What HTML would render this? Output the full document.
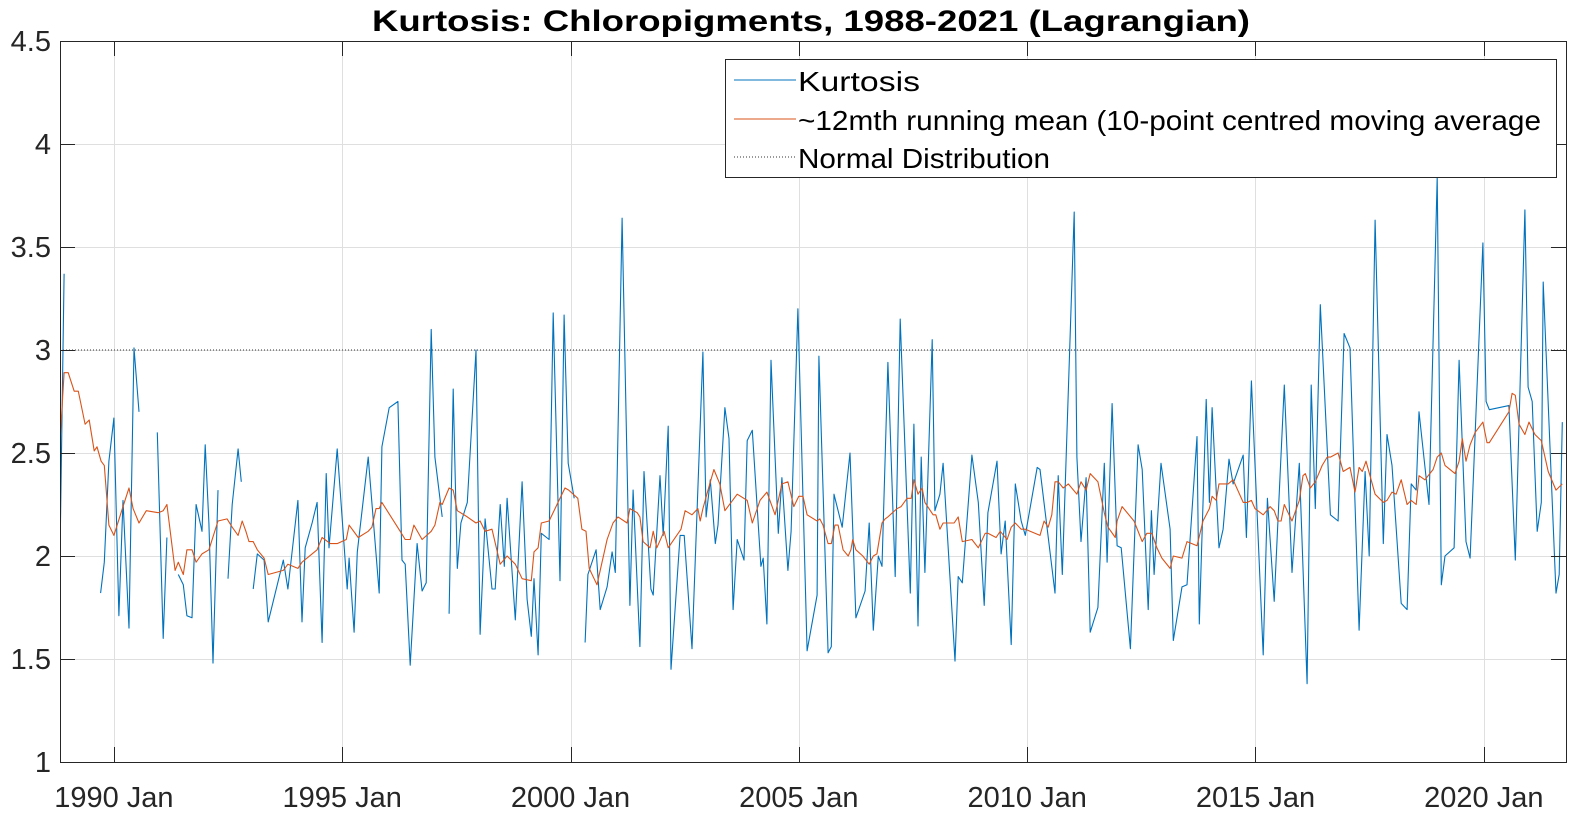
<!DOCTYPE html>
<html><head><meta charset="utf-8"><style>
html,body{margin:0;padding:0;background:#fff;}
svg{display:block;font-family:"Liberation Sans",Arial,sans-serif;}
</style></head><body>
<svg id="chart" width="1576" height="813" viewBox="0 0 1576 813" xmlns="http://www.w3.org/2000/svg">
<text x="811" y="31" text-anchor="middle" font-size="30" font-weight="bold" fill="#000" textLength="878" lengthAdjust="spacingAndGlyphs">Kurtosis: Chloropigments, 1988-2021 (Lagrangian)</text>
<g id="grid"></g>
<g id="series"></g>
<g id="axes"></g>
<g>
<rect x="725.5" y="59.5" width="831" height="118" fill="#fff" stroke="#262626" stroke-width="1"/>
<line x1="734" y1="80" x2="796" y2="80" stroke="#0072BD" stroke-width="1"/>
<text x="798" y="91" font-size="28" fill="#000" textLength="122" lengthAdjust="spacingAndGlyphs">Kurtosis</text>
<line x1="734" y1="119" x2="796" y2="119" stroke="#D95319" stroke-width="1"/>
<text x="798" y="130" font-size="28" fill="#000" textLength="743" lengthAdjust="spacingAndGlyphs">~12mth running mean (10-point centred moving average</text>
<line x1="734" y1="157" x2="796" y2="157" stroke="#333" stroke-width="1" stroke-dasharray="1,2"/>
<text x="798" y="168" font-size="28" fill="#000" textLength="252" lengthAdjust="spacingAndGlyphs">Normal Distribution</text>
</g>
</svg>
<script>
const yTicks = [1, 1.5, 2, 2.5, 3, 3.5, 4, 4.5];
const yTickLabels = ["1", "1.5", "2", "2.5", "3", "3.5", "4", "4.5"];
const xTicks = [1990, 1995, 2000, 2005, 2010, 2015, 2020];
const xTickLabels = ["1990 Jan", "1995 Jan", "2000 Jan", "2005 Jan", "2010 Jan", "2015 Jan", "2020 Jan"];
const normalValue = 3;
const kurtDates = [1988.81,1988.91,null,1989.71,1989.79,1989.89,1990.00,1990.11,1990.20,1990.33,1990.44,1990.55,null,1990.95,1991.08,1991.16,null,1991.41,1991.52,1991.60,1991.71,1991.80,1991.93,1992.00,1992.08,1992.17,1992.28,null,1992.50,1992.59,1992.72,1992.79,null,1993.05,1993.14,1993.29,1993.38,1993.71,1993.81,1994.03,1994.12,1994.19,1994.34,1994.45,1994.56,1994.65,1994.71,1994.89,1995.11,1995.15,1995.26,1995.33,1995.57,1995.81,1995.87,1996.03,1996.22,1996.31,1996.38,1996.49,1996.64,1996.75,1996.84,1996.95,1997.03,1997.19,null,1997.34,1997.43,1997.52,1997.60,1997.74,1997.93,1998.02,1998.13,1998.28,1998.35,1998.46,1998.55,1998.61,1998.79,1998.94,1999.05,1999.14,1999.20,1999.29,1999.36,1999.53,1999.62,1999.77,1999.86,1999.95,2000.08,null,2000.32,2000.38,2000.56,2000.65,2000.80,2000.91,2000.98,2001.13,2001.30,2001.37,2001.52,2001.61,2001.76,2001.81,2001.96,2002.03,2002.14,2002.20,2002.40,2002.49,2002.66,2002.90,2002.97,2003.06,2003.17,2003.23,2003.38,2003.47,2003.56,2003.65,2003.80,2003.87,2003.98,2004.17,2004.22,2004.30,2004.39,2004.55,2004.63,2004.76,2004.83,2004.98,2005.18,2005.40,2005.44,2005.64,2005.71,2005.77,2005.95,2006.12,2006.25,2006.45,2006.54,2006.63,2006.74,2006.82,2006.95,2007.11,2007.22,2007.44,2007.52,2007.61,2007.68,2007.76,2007.92,2007.98,2008.09,2008.16,2008.42,2008.49,2008.58,2008.79,2008.93,2009.06,2009.14,2009.34,2009.43,2009.52,2009.65,2009.74,2009.87,2009.96,2010.22,2010.28,2010.61,2010.68,2010.77,2011.03,2011.09,2011.18,2011.29,2011.38,2011.55,2011.69,2011.75,2011.86,2011.97,2012.06,2012.26,2012.43,2012.52,2012.65,2012.72,2012.78,2012.93,2013.13,2013.20,2013.39,2013.50,2013.72,2013.77,2013.92,2013.99,2014.05,2014.20,2014.29,2014.42,2014.51,2014.73,2014.80,2014.91,2015.17,2015.26,2015.41,2015.63,2015.80,2015.96,2016.13,2016.22,2016.31,2016.42,2016.64,2016.81,2016.94,2017.07,2017.27,2017.40,2017.49,2017.62,2017.80,2017.88,2017.99,2018.19,2018.32,2018.41,2018.52,2018.58,2018.80,2018.98,2019.07,2019.15,2019.35,2019.46,2019.61,2019.70,2019.98,2020.05,2020.12,2020.55,2020.69,2020.90,2020.97,2021.06,2021.17,2021.26,2021.30,2021.58,2021.65,2021.72];
const kurtValues = [1.84,3.37,null,1.82,1.97,2.46,2.67,1.71,2.27,1.65,3.01,2.70,null,2.60,1.60,2.09,null,1.91,1.86,1.71,1.70,2.25,2.12,2.54,2.16,1.48,2.32,null,1.89,2.25,2.52,2.36,null,1.84,2.01,1.98,1.68,1.98,1.84,2.27,1.68,2.04,2.16,2.26,1.58,2.40,2.04,2.52,1.84,1.99,1.63,2.02,2.48,1.82,2.53,2.72,2.75,1.98,1.96,1.47,2.06,1.83,1.87,3.10,2.48,2.19,null,1.72,2.81,1.94,2.16,2.26,3.00,1.62,2.18,1.84,1.84,2.25,1.95,2.28,1.69,2.36,1.79,1.61,1.89,1.52,2.11,2.08,3.18,1.88,3.17,2.45,2.28,null,1.58,1.91,2.03,1.74,1.85,2.02,1.92,3.64,1.76,2.32,1.56,2.41,1.84,1.81,2.39,2.10,2.63,1.45,2.10,2.10,1.55,2.99,2.19,2.37,2.06,2.15,2.72,2.57,1.74,2.08,1.98,2.56,2.61,1.95,1.99,1.67,2.95,2.11,2.38,1.93,2.12,3.20,1.54,1.81,2.97,1.53,1.56,2.30,2.14,2.50,1.70,1.83,2.16,1.64,2.00,1.95,2.94,1.90,3.15,1.82,2.64,1.66,2.48,1.92,3.05,2.22,2.30,2.45,1.49,1.90,1.87,2.49,2.26,1.76,2.21,2.46,2.01,2.17,1.57,2.35,2.17,2.10,2.43,2.42,1.82,2.39,1.91,3.67,2.48,2.07,2.38,1.63,1.75,2.45,1.97,2.74,2.05,2.04,1.55,2.54,2.42,1.74,2.22,1.91,2.45,2.13,1.59,1.85,1.86,2.58,1.67,2.76,2.26,2.72,2.04,2.13,2.47,2.35,2.49,2.09,2.85,1.52,2.28,1.78,2.83,1.92,2.45,1.38,2.83,2.23,3.22,2.20,2.17,3.08,3.01,1.64,2.41,2.00,3.63,2.06,2.59,2.44,1.77,1.74,2.35,2.32,2.70,2.25,3.84,1.86,2.00,2.04,2.95,2.07,1.99,3.52,2.75,2.71,2.73,1.98,3.68,2.82,2.75,2.12,2.26,3.33,1.82,1.91,2.65];
const meanDates = [1988.80,1988.91,1989.00,1989.13,1989.22,1989.37,1989.46,1989.57,1989.63,1989.72,1989.79,1989.89,1990.00,1990.20,1990.33,1990.42,1990.55,1990.71,1990.97,1991.08,1991.16,1991.34,1991.41,1991.52,1991.60,1991.71,1991.80,1991.93,1992.08,1992.28,1992.48,1992.59,1992.72,1992.81,1992.89,1992.96,1993.05,1993.14,1993.29,1993.38,1993.71,1993.81,1994.03,1994.12,1994.45,1994.56,1994.74,1994.89,1995.09,1995.15,1995.35,1995.57,1995.65,1995.74,1995.81,1995.87,1996.27,1996.38,1996.49,1996.57,1996.75,1996.95,1997.03,1997.14,1997.19,1997.34,1997.43,1997.52,1997.74,1997.93,1998.02,1998.13,1998.28,1998.46,1998.61,1998.79,1998.94,1999.14,1999.20,1999.29,1999.36,1999.53,1999.77,1999.88,1999.96,2000.16,2000.25,2000.34,2000.41,2000.58,2000.80,2000.93,2001.04,2001.24,2001.30,2001.46,2001.52,2001.59,2001.74,2001.81,2001.89,2002.05,2002.14,2002.42,2002.51,2002.66,2002.79,2002.84,2002.90,2003.01,2003.14,2003.27,2003.38,2003.65,2003.87,2003.98,2004.15,2004.30,2004.48,2004.63,2004.76,2004.89,2005.00,2005.09,2005.18,2005.40,2005.46,2005.53,2005.64,2005.71,2005.79,2005.86,2005.97,2006.08,2006.14,2006.18,2006.25,2006.40,2006.54,2006.63,2006.71,2006.82,2006.89,2006.95,2007.15,2007.24,2007.37,2007.46,2007.52,2007.61,2007.70,2007.76,2007.94,2008.00,2008.09,2008.16,2008.40,2008.49,2008.58,2008.79,2008.93,2009.08,2009.14,2009.32,2009.41,2009.56,2009.65,2009.74,2009.87,2009.96,2010.28,2010.37,2010.46,2010.54,2010.61,2010.68,2010.79,2010.90,2011.09,2011.18,2011.29,2011.38,2011.55,2011.69,2011.77,2011.93,2011.97,2012.08,2012.34,2012.52,2012.62,2012.73,2012.84,2012.95,2013.13,2013.20,2013.39,2013.50,2013.72,2013.85,2013.99,2014.05,2014.14,2014.20,2014.40,2014.51,2014.73,2014.82,2014.91,2014.99,2015.17,2015.32,2015.41,2015.49,2015.56,2015.63,2015.80,2015.96,2016.04,2016.09,2016.20,2016.31,2016.46,2016.57,2016.64,2016.81,2016.92,2017.07,2017.18,2017.27,2017.34,2017.42,2017.62,2017.80,2017.88,2017.99,2018.08,2018.19,2018.32,2018.41,2018.52,2018.58,2018.71,2018.89,2018.98,2019.07,2019.15,2019.37,2019.46,2019.53,2019.61,2019.70,2019.81,2019.98,2020.07,2020.12,2020.55,2020.62,2020.69,2020.77,2020.90,2020.99,2021.12,2021.26,2021.41,2021.58,2021.72];
const meanValues = [2.48,2.89,2.89,2.80,2.80,2.64,2.66,2.51,2.53,2.46,2.44,2.15,2.10,2.24,2.33,2.23,2.16,2.22,2.21,2.22,2.25,1.93,1.97,1.91,2.03,2.03,1.97,2.01,2.03,2.17,2.18,2.14,2.10,2.17,2.12,2.07,2.07,2.03,1.99,1.91,1.93,1.96,1.94,1.97,2.03,2.09,2.06,2.06,2.08,2.15,2.09,2.12,2.14,2.23,2.23,2.26,2.12,2.08,2.08,2.15,2.08,2.12,2.15,2.26,2.25,2.33,2.32,2.22,2.19,2.16,2.17,2.12,2.13,1.96,2.00,1.96,1.89,1.88,2.02,2.04,2.16,2.17,2.28,2.33,2.32,2.28,2.13,2.12,1.94,1.86,2.08,2.16,2.19,2.16,2.23,2.21,2.19,2.07,2.04,2.12,2.04,2.12,2.04,2.13,2.22,2.20,2.23,2.17,2.23,2.32,2.42,2.35,2.22,2.30,2.27,2.16,2.27,2.31,2.20,2.35,2.36,2.24,2.29,2.29,2.20,2.17,2.18,2.15,2.06,2.06,2.15,2.15,2.03,2.00,2.03,2.08,2.03,2.00,1.96,2.00,2.01,2.16,2.18,2.19,2.23,2.24,2.28,2.28,2.37,2.30,2.33,2.26,2.20,2.20,2.13,2.16,2.16,2.19,2.07,2.08,2.04,2.11,2.11,2.09,2.12,2.08,2.14,2.16,2.13,2.13,2.10,2.17,2.14,2.20,2.36,2.36,2.33,2.35,2.30,2.36,2.32,2.40,2.36,2.21,2.14,2.09,2.17,2.24,2.17,2.07,2.11,2.11,2.04,1.99,1.94,2.00,1.99,2.07,2.05,2.17,2.23,2.29,2.27,2.35,2.35,2.37,2.26,2.26,2.27,2.23,2.20,2.24,2.22,2.17,2.17,2.25,2.17,2.27,2.39,2.40,2.33,2.36,2.44,2.48,2.48,2.50,2.41,2.43,2.31,2.43,2.41,2.46,2.30,2.26,2.27,2.31,2.30,2.37,2.25,2.27,2.25,2.39,2.37,2.42,2.48,2.50,2.44,2.40,2.46,2.57,2.46,2.54,2.60,2.65,2.55,2.55,2.70,2.79,2.78,2.64,2.59,2.65,2.59,2.56,2.41,2.32,2.35];

const X0 = 60, X1 = 1566, Y0 = 762, Y1 = 41;
const D0 = 1988.82, D1 = 2021.80, V0 = 1, V1 = 4.5;
function xScale(d) { return X0 + (d - D0) / (D1 - D0) * (X1 - X0); }
function yScale(v) { return Y0 - (v - V0) / (V1 - V0) * (Y0 - Y1); }
const NS = "http://www.w3.org/2000/svg";
function mk(tag, parent, attrs) {
  const el = document.createElementNS(NS, tag);
  for (const k in attrs) el.setAttribute(k, attrs[k]);
  parent.appendChild(el);
  return el;
}
const grid = document.getElementById('grid');
const axes = document.getElementById('axes');
const series = document.getElementById('series');

yTicks.forEach((t, i) => {
  const y = Math.round(yScale(t)) + 0.5;
  if (t > V0 && t < V1) {
    const g = mk('line', grid, {x1: X0, x2: X1, y1: y, y2: y, stroke: '#dfdfdf', 'stroke-width': 1});
    
    
  }
  const tl = mk('line', axes, {x1: X0, x2: X0 + 15, y1: y, y2: y, stroke: '#262626', 'stroke-width': 1});
  
  
  const tr = mk('line', axes, {x1: X1 - 15, x2: X1, y1: y, y2: y, stroke: '#262626', 'stroke-width': 1});
  
  
  const lb = mk('text', axes, {x: X0 - 9, y: yScale(t) + 10, 'text-anchor': 'end', 'font-size': 29, fill: '#262626'});
  lb.textContent = yTickLabels[i];
  
  
});
xTicks.forEach((t, i) => {
  const x = Math.round(xScale(t)) + 0.5;
  const g = mk('line', grid, {x1: x, x2: x, y1: Y1, y2: Y0, stroke: '#dfdfdf', 'stroke-width': 1});
  
  
  const tb = mk('line', axes, {x1: x, x2: x, y1: Y0 - 15, y2: Y0, stroke: '#262626', 'stroke-width': 1});
  
  
  const tt = mk('line', axes, {x1: x, x2: x, y1: Y1, y2: Y1 + 15, stroke: '#262626', 'stroke-width': 1});
  
  
  const lb = mk('text', axes, {x: xScale(t), y: 807, 'text-anchor': 'middle', 'font-size': 29, fill: '#262626'});
  lb.textContent = xTickLabels[i];
  
  
});
const box = mk('rect', axes, {x: X0 + 0.5, y: Y1 + 0.5, width: X1 - X0, height: Y0 - Y1, fill: 'none', stroke: '#262626', 'stroke-width': 1});



const ny = yScale(normalValue);
const nl = mk('line', series, {x1: X0, x2: X1, y1: ny, y2: ny, stroke: '#333', 'stroke-width': 1, 'stroke-dasharray': '1,2'});



function pathFor(dates, vals) {
  let d = '', pen = false;
  for (let i = 0; i < dates.length; i++) {
    if (dates[i] === null || vals[i] === null) { pen = false; continue; }
    d += (pen ? 'L' : 'M') + xScale(dates[i]).toFixed(1) + ' ' + yScale(vals[i]).toFixed(1);
    pen = true;
  }
  return d;
}
const clip = mk('clipPath', series, {id: 'plotclip'});
mk('rect', clip, {x: X0, y: Y1, width: X1 - X0, height: Y0 - Y1});
const kp = mk('path', series, {d: pathFor(kurtDates, kurtValues), fill: 'none', stroke: '#0072BD', 'stroke-width': 1.1, 'stroke-linejoin': 'round', 'clip-path': 'url(#plotclip)'});


const mp = mk('path', series, {d: pathFor(meanDates, meanValues), fill: 'none', stroke: '#D95319', 'stroke-width': 1.1, 'stroke-linejoin': 'round', 'clip-path': 'url(#plotclip)'});


</script>
</body></html>
